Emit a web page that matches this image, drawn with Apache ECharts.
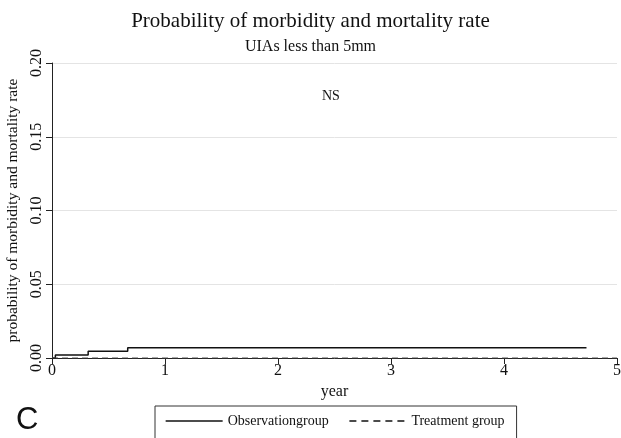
<!DOCTYPE html>
<html><head><meta charset="utf-8">
<script src="https://cdn.jsdelivr.net/npm/echarts@6/dist/echarts.min.js"></script>
<style>html,body{margin:0;padding:0;background:#fff}#c{width:621px;height:438px}</style>
</head><body><div id="c"></div>
<script>
const xTicks = [0, 1, 2, 3, 4, 5];
const yTicks = [0, 0.05, 0.10, 0.15, 0.20];
const obsTimes = [0, 0.03, 0.32, 0.67, 4.73];
const obsValues = [0, 0.002, 0.0045, 0.007, 0.007];
const trtTimes = [0, 5];
const trtValues = [0, 0];
const seriesNames = ['Observationgroup', 'Treatment group'];
const titleText = 'Probability of morbidity and mortality rate';
const subtitleText = 'UIAs less than 5mm';
const annotation = 'NS';

const serif = '"Liberation Serif", "DejaVu Serif", serif';
const chart = echarts.init(document.getElementById('c'));
chart.setOption({
  animation: false,
  backgroundColor: '#fff',
  title: {
    text: titleText, subtext: subtitleText, left: 'center', top: 6, itemGap: 7,
    textStyle: {fontFamily: serif, fontSize: 21, fontWeight: 'normal', color: '#111'},
    subtextStyle: {fontFamily: serif, fontSize: 16, color: '#111'}
  },
  grid: {left: 52, right: 4, top: 63, bottom: 80, containLabel: false, outerBoundsMode: 'none'},
  xAxis: {
    type: 'value', min: xTicks[0], max: xTicks[xTicks.length - 1], interval: 1,
    name: 'year', nameLocation: 'middle', nameGap: 25,
    nameTextStyle: {fontFamily: serif, fontSize: 16, color: '#111'},
    axisLine: {show: true, lineStyle: {color: '#222', width: 1}},
    axisTick: {show: true, length: 6, lineStyle: {color: '#222'}},
    axisLabel: {fontFamily: serif, fontSize: 16, color: '#111', margin: 5},
    splitLine: {show: false}
  },
  yAxis: {
    type: 'value', min: yTicks[0], max: yTicks[yTicks.length - 1], interval: 0.05,
    name: 'probability of morbidity and mortality rate', nameLocation: 'middle', nameGap: 30,
    nameTextStyle: {fontFamily: serif, fontSize: 15.5, color: '#111'},
    axisLine: {show: true, lineStyle: {color: '#222', width: 1}},
    axisTick: {show: true, length: 6, lineStyle: {color: '#222'}},
    axisLabel: {fontFamily: serif, fontSize: 16, color: '#111', rotate: 90, margin: 7,
      formatter: v => v.toFixed(2)},
    splitLine: {show: true, lineStyle: {color: '#e4e4e4', width: 1}}
  },
  legend: {
    left: 155, top: 406, itemGap: 20, itemWidth: 57, itemHeight: 12,
    borderColor: '#333', borderWidth: 1, borderRadius: 0, padding: [8, 12, 20, 10],
    itemStyle: {opacity: 0},
    textStyle: {fontFamily: serif, fontSize: 14, color: '#111'},
    data: [
      {name: seriesNames[0], lineStyle: {color: '#111', width: 1.3, type: 'solid'}},
      {name: seriesNames[1], lineStyle: {color: '#111', width: 1.3, type: [7, 5]}}
    ]
  },
  graphic: [
    {type: 'text', left: 322, top: 89, style: {text: annotation, font: '14px ' + serif, fill: '#111'}},
    {type: 'text', left: 16, top: 405, style: {text: 'C', font: '31px "Liberation Sans", Arial, sans-serif', fill: '#111'}}
  ],
  series: [
    {
      name: seriesNames[0], type: 'line', step: 'end', symbol: 'none',
      data: obsTimes.map((t, i) => [t, obsValues[i]]),
      lineStyle: {color: '#111', width: 1.5, type: 'solid'}, itemStyle: {color: '#111'}, z: 3
    },
    {
      name: seriesNames[1], type: 'line', step: 'end', symbol: 'none',
      data: trtTimes.map((t, i) => [t, trtValues[i]]),
      lineStyle: {color: '#555', width: 1.2, type: [6, 4]}, itemStyle: {color: '#555'}, z: 4
    }
  ]
});
</script></body></html>
